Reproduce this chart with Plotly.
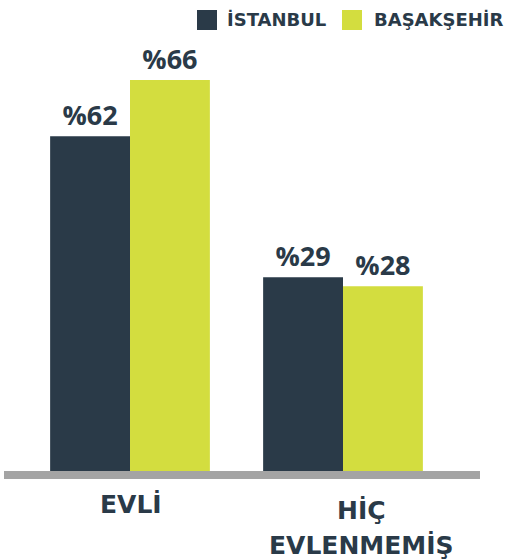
import plotly.graph_objects as go

# ---- data ----
categories = ["EVLİ", "HİÇ\nEVLENMEMİŞ"]
series_names = ["İSTANBUL", "BAŞAKŞEHİR"]
istanbul_pct = [62, 29]          # printed labels
basaksehir_pct = [66, 28]
# bar lengths as drawn in the reference graphic (same % scale as the 66 bar)
istanbul_drawn = [56.5, 32.7]
basaksehir_drawn = [66, 31.2]

DARK = "#2a3a48"
LIME = "#d3dd3f"
GRAY = "#a4a4a4"
PCT_FONT = "Open Sans"
CAT_FONT = "DejaVu Sans"

x_idx = list(range(len(categories)))

fig = go.Figure()
for name, drawn, pct, col in [
    (series_names[0], istanbul_drawn, istanbul_pct, DARK),
    (series_names[1], basaksehir_drawn, basaksehir_pct, LIME),
]:
    fig.add_trace(go.Bar(
        x=x_idx, y=drawn, name=name,
        marker=dict(color=col, line=dict(width=0)),
        text=[f"%{v}" for v in pct],
        textposition="outside",
        textfont=dict(family=PCT_FONT, size=27, color=DARK, weight="bold"),
        cliponaxis=False,
        showlegend=False,
        hoverinfo="skip",
    ))

W, H = 509, 559
ml, mr, mt, mb = 4, 29, 40, 88
pw, ph = W - ml - mr, H - mt - mb

def px_x(px):
    return (px - ml) / pw

def px_y(py):
    return (H - mb - py) / ph

annotations = []
# category labels (split lines)
cat_xshift = [1, 18]
line_gap = 35
for i, cat in enumerate(categories):
    lines = cat.split("\n")
    first_center = 504 if len(lines) == 1 else 510
    for j, line in enumerate(lines):
        annotations.append(dict(
            x=x_idx[i], xref="x", y=px_y(first_center + j * line_gap), yref="paper",
            text=line, showarrow=False, xanchor="center", yanchor="middle",
            xshift=cat_xshift[i],
            font=dict(family=CAT_FONT, size=25, color=DARK, weight="bold"),
        ))

# legend (manual, to match large square swatches)
shapes = []
legend_items = [(series_names[0], DARK, 197, 225), (series_names[1], LIME, 342, 372)]
for name, col, sx, tx in legend_items:
    shapes.append(dict(type="rect", xref="paper", yref="paper",
                       x0=px_x(sx), x1=px_x(sx + 20), y0=px_y(30), y1=px_y(10),
                       fillcolor=col, line=dict(width=0)))
    annotations.append(dict(
        x=px_x(tx), xref="paper", y=px_y(20), yref="paper",
        text=name, showarrow=False, xanchor="left", yanchor="middle",
        font=dict(family=CAT_FONT, size=18, color=DARK, weight="bold"),
    ))

fig.update_layout(
    width=W, height=H,
    margin=dict(l=ml, r=mr, t=mt, b=mb, pad=0),
    paper_bgcolor="white", plot_bgcolor="white",
    barmode="group", bargap=0.25, bargroupgap=0,
    showlegend=False,
    xaxis=dict(range=[-(130 - ml) / 213, 1 + (W - mr - 343) / 213],
               showticklabels=False, ticks="", showgrid=False, zeroline=False,
               showline=True, linecolor=GRAY, linewidth=8, fixedrange=True),
    yaxis=dict(range=[0, 66 * ph / 391], visible=False, showgrid=False,
               zeroline=False, fixedrange=True),
    annotations=annotations,
    shapes=shapes,
)

fig.write_html("out.html", config={"displayModeBar": False})
